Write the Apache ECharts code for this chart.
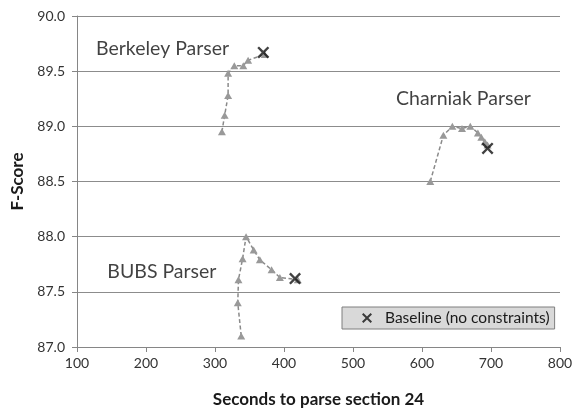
<!DOCTYPE html>
<html>
<head>
<meta charset="utf-8">
<script src="https://cdn.jsdelivr.net/npm/echarts@6/dist/echarts.min.js"></script>
<style>
  html, body { margin: 0; padding: 0; background: #fff; }
  #chart { width: 572px; height: 408px; }
</style>
</head>
<body>
<div id="chart"></div>
<script>
// ---- Data ----
const berkeleyX = [310, 314, 319, 319, 328, 341, 348, 372];
const berkeleyY = [88.95, 89.10, 89.28, 89.48, 89.55, 89.55, 89.60, 89.65];

const charniakX = [612, 631, 644, 658, 670, 681, 686, 691, 695];
const charniakY = [88.50, 88.92, 89.00, 88.98, 89.00, 88.94, 88.90, 88.86, 88.83];

const bubsX = [338, 333, 334, 340, 345, 356, 365, 382, 394, 420];
const bubsY = [87.10, 87.40, 87.61, 87.80, 88.00, 87.88, 87.79, 87.70, 87.63, 87.61];

const baselineX = [370, 695, 416];
const baselineY = [89.67, 88.80, 87.62];

const parserNames = ['Berkeley Parser', 'Charniak Parser', 'BUBS Parser'];
// annotation anchors in data coordinates
const parserLabelX = [224, 660, 223];
const parserLabelY = [89.70, 89.25, 87.68];

const xTicks = [100, 200, 300, 400, 500, 600, 700, 800];
const yTicks = ['87.0', '87.5', '88.0', '88.5', '89.0', '89.5', '90.0'];

const legendName = 'Baseline (no constraints)';

// ---- Build ----
const zip = (xs, ys) => xs.map((x, i) => [x, ys[i]]);
const FONT = 'Lato';
const xPath = 'path://M0,1.4 L1.4,0 L5,3.6 L8.6,0 L10,1.4 L6.4,5 L10,8.6 L8.6,10 L5,6.4 L1.4,10 L0,8.6 L3.6,5 Z';

function parserSeries(name, xs, ys) {
  return {
    name: name,
    type: 'line',
    data: zip(xs, ys),
    symbol: 'triangle',
    symbolSize: [8, 7],
    showSymbol: true,
    itemStyle: { color: '#999999' },
    lineStyle: { color: '#8a8a8a', width: 1.5, type: [4, 2.5] },
    z: 3,
    silent: true
  };
}

const chart = echarts.init(document.getElementById('chart'), null, { renderer: 'canvas' });

chart.setOption({
  animation: false,
  textStyle: { fontFamily: FONT },
  grid: { left: 77, right: 12, top: 16, bottom: 61, containLabel: false, outerBoundsMode: 'none' },
  legend: {
    data: [legendName],
    left: 342,
    top: 307,
    orient: 'horizontal',
    backgroundColor: '#d9d9d9',
    borderColor: '#7f7f7f',
    borderWidth: 1,
    borderRadius: 0,
    padding: [3, 5, 3, 20],
    itemWidth: 10,
    itemHeight: 10,
    textStyle: { fontFamily: FONT, fontSize: 15.5, color: '#1a1a1a', padding: [0, 0, 0, 8] },
    selectedMode: false
  },
  xAxis: {
    type: 'value',
    min: 100,
    max: 800,
    interval: 100,
    name: 'Seconds to parse section 24',
    nameLocation: 'middle',
    nameGap: 44,
    nameTextStyle: { fontFamily: FONT, fontWeight: 'bold', fontSize: 17, color: '#1a1a1a' },
    axisLine: { show: true, lineStyle: { color: '#868686', width: 1 } },
    axisTick: { show: true, inside: false, length: 5, lineStyle: { color: '#868686' } },
    axisLabel: {
      margin: 9, fontSize: 14, color: '#333', fontFamily: FONT,
      formatter: v => String(xTicks[xTicks.indexOf(v)] ?? v)
    },
    splitLine: { show: false }
  },
  yAxis: {
    type: 'value',
    min: 87,
    max: 90,
    interval: 0.5,
    name: 'F-Score',
    nameLocation: 'middle',
    nameRotate: 90,
    nameGap: 49,
    nameTextStyle: { fontFamily: FONT, fontWeight: 'bold', fontSize: 17, color: '#1a1a1a' },
    axisLine: { show: true, lineStyle: { color: '#868686', width: 1 } },
    axisTick: { show: true, inside: false, length: 5, lineStyle: { color: '#868686' } },
    axisLabel: {
      margin: 12, fontSize: 14, color: '#333', fontFamily: FONT,
      formatter: v => yTicks.find(t => Math.abs(parseFloat(t) - v) < 1e-6) || v.toFixed(1)
    },
    splitLine: { show: true, lineStyle: { color: '#8c8c8c', width: 1 } }
  },
  series: [
    parserSeries('Berkeley', berkeleyX, berkeleyY),
    parserSeries('Charniak', charniakX, charniakY),
    parserSeries('BUBS', bubsX, bubsY),
    {
      name: legendName,
      type: 'scatter',
      data: zip(baselineX, baselineY),
      symbol: xPath,
      symbolSize: 12,
      itemStyle: { color: '#111' },
      z: 5,
      silent: true
    },
    {
      name: 'labels',
      type: 'scatter',
      data: parserNames.map((n, i) => ({ name: n, value: [parserLabelX[i], parserLabelY[i]] })),
      symbolSize: 0,
      silent: true,
      label: {
        show: true,
        position: 'inside',
        formatter: p => p.name,
        fontFamily: FONT,
        fontSize: 19.5,
        color: '#111'
      },
      z: 6
    }
  ]
});
</script>
</body>
</html>
